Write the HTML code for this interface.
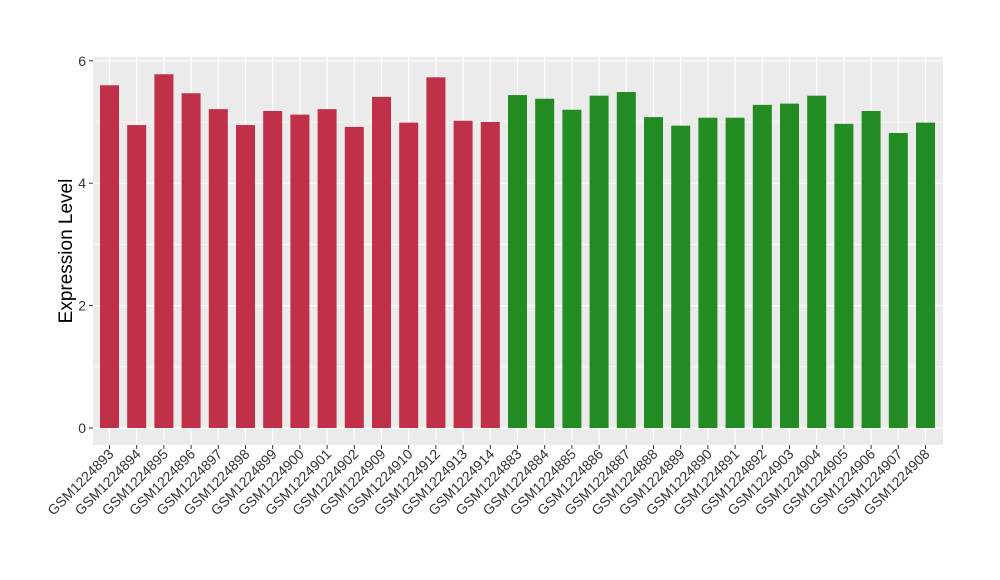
<!DOCTYPE html>
<html><head><meta charset="utf-8"><style>
body{margin:0;background:#fff}
svg{display:block;font-family:"Liberation Sans",Arial,sans-serif}
</style></head><body>
<svg id="chart" width="1000" height="580">
<rect x="93" y="57" width="850" height="388" fill="#ebebeb"/>
<g id="grid"></g><g id="bars"></g><g id="yaxis"></g><g id="xaxis"></g>
<text x="0" y="0" transform="translate(72,251) rotate(-90)" text-anchor="middle" font-size="19" fill="#000">Expression Level</text>
</svg>
<script>
const categories=["GSM1224893","GSM1224894","GSM1224895","GSM1224896","GSM1224897","GSM1224898","GSM1224899","GSM1224900","GSM1224901","GSM1224902","GSM1224909","GSM1224910","GSM1224912","GSM1224913","GSM1224914","GSM1224883","GSM1224884","GSM1224885","GSM1224886","GSM1224887","GSM1224888","GSM1224889","GSM1224890","GSM1224891","GSM1224892","GSM1224903","GSM1224904","GSM1224905","GSM1224906","GSM1224907","GSM1224908"];
const values=[5.6,4.95,5.78,5.47,5.21,4.95,5.18,5.12,5.21,4.92,5.41,4.99,5.73,5.02,5.0,5.44,5.38,5.2,5.43,5.49,5.08,4.94,5.07,5.07,5.28,5.3,5.43,4.97,5.18,4.82,4.99];
const groups=["a","a","a","a","a","a","a","a","a","a","a","a","a","a","a","b","b","b","b","b","b","b","b","b","b","b","b","b","b","b","b"];
const yTicks=[0,2,4,6];
const colors={a:"#c03048",b:"#228b22"};
const NS="http://www.w3.org/2000/svg";
const y=v=>428-v*61.2;
const step=27.2, x0=109.5, bw=19;
const x=i=>x0+i*step;
function mk(t,a,p){const e=document.createElementNS(NS,t);for(const k in a)e.setAttribute(k,a[k]);p.appendChild(e);return e;}
const grid=document.getElementById('grid'),bars=document.getElementById('bars'),ya=document.getElementById('yaxis'),xa=document.getElementById('xaxis');
for(let k=0;k<yTicks.length-1;k++){const m=(yTicks[k]+yTicks[k+1])/2;const l=mk('line',{x1:93,x2:943,y1:y(m),y2:y(m),stroke:'#fff','stroke-width':0.6},grid);

}
yTicks.forEach(v=>{const l=mk('line',{x1:93,x2:943,y1:y(v),y2:y(v),stroke:'#fff','stroke-width':1.2},grid);


const t=mk('line',{x1:89,x2:93,y1:y(v),y2:y(v),stroke:'#333'},ya);


const tx=mk('text',{x:86,y:y(v)+5,'text-anchor':'end','font-size':14,fill:'#333'},ya);tx.textContent=v;

});
categories.forEach((c,i)=>{const g=mk('line',{x1:x(i),x2:x(i),y1:57,y2:445,stroke:'#fff','stroke-width':1.2},grid);


const r=mk('rect',{x:x(i)-bw/2,y:y(values[i]),width:bw,height:y(0)-y(values[i]),fill:colors[groups[i]]},bars);


const t=mk('line',{x1:x(i),x2:x(i),y1:445,y2:449,stroke:'#333'},xa);


const tx=mk('text',{x:0,y:0,transform:`translate(${x(i)+5},${455}) rotate(-45)`,'text-anchor':'end','font-size':14,fill:'#333'},xa);tx.textContent=c;

});
</script>
</body></html>
